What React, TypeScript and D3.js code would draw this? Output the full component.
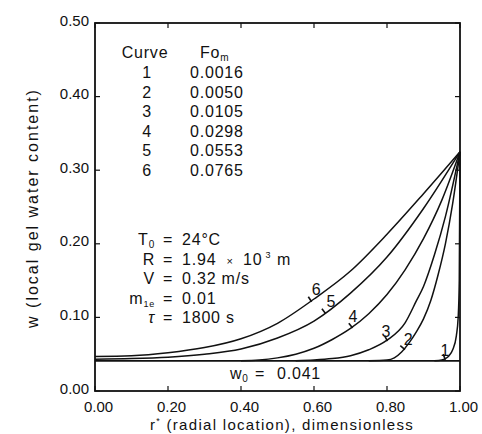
import React from 'react';
import * as d3 from 'd3';

// values
const curveIds = ['1', '2', '3', '4', '5', '6'];
const fourierNumbers = ['0.0016', '0.0050', '0.0105', '0.0298', '0.0553', '0.0765'];

const curve1 = [[0.93, 0.041], [0.95, 0.042], [0.96, 0.044], [0.97, 0.048], [0.98, 0.056], [0.99, 0.075], [0.995, 0.1], [0.998, 0.15], [1.0, 0.325]];
const curve2 = [[0.75, 0.041], [0.8, 0.042], [0.82, 0.045], [0.84, 0.053], [0.86, 0.065], [0.88, 0.08], [0.9, 0.098], [0.92, 0.123], [0.94, 0.158], [0.96, 0.2], [0.98, 0.255], [1.0, 0.325]];
const curve3 = [[0.55, 0.041], [0.6, 0.042], [0.65, 0.044], [0.7, 0.048], [0.75, 0.056], [0.8, 0.069], [0.85, 0.093], [0.88, 0.122], [0.9, 0.142], [0.93, 0.185], [0.96, 0.237], [1.0, 0.325]];
const curve4 = [[0.4, 0.041], [0.45, 0.042], [0.5, 0.045], [0.55, 0.05], [0.6, 0.058], [0.65, 0.07], [0.7, 0.085], [0.75, 0.105], [0.8, 0.131], [0.85, 0.165], [0.9, 0.207], [0.95, 0.259], [1.0, 0.325]];
const curve5 = [[0, 0.043], [0.1, 0.044], [0.2, 0.046], [0.3, 0.05], [0.4, 0.057], [0.5, 0.072], [0.6, 0.095], [0.7, 0.133], [0.8, 0.182], [0.9, 0.248], [1.0, 0.325]];
const curve6 = [[0, 0.047], [0.1, 0.048], [0.2, 0.052], [0.3, 0.059], [0.4, 0.071], [0.5, 0.092], [0.6, 0.125], [0.7, 0.163], [0.8, 0.213], [0.9, 0.268], [1.0, 0.325]];
const curves = [curve1, curve2, curve3, curve4, curve5, curve6];

// where each curve number sits (r*)
const labelR = [0.959, 0.847, 0.8, 0.704, 0.63, 0.592];

const initialContent = 0.041;
const xTicks = [0, 0.2, 0.4, 0.6, 0.8, 1.0];
const yTicks = [0, 0.1, 0.2, 0.3, 0.4, 0.5];

const W = 482;
const H = 434;
const FONT = '"Liberation Sans", Arial, Helvetica, sans-serif';

// label text offsets from the little tick on each curve
const labelOffsets = [[0, -8], [4, -9], [-1, -9], [1, -11], [6, -11], [5, -11]];

function interp(data: number[][], r: number) {
  for (let i = 1; i < data.length; i++) {
    if (data[i][0] >= r) {
      const [r0, w0] = data[i - 1];
      const [r1, w1] = data[i];
      const t = (r - r0) / (r1 - r0);
      return { w: w0 + t * (w1 - w0), slope: (w1 - w0) / (r1 - r0) };
    }
  }
  return { w: data[data.length - 1][1], slope: 0 };
}

export default function App() {
  const x = d3.scaleLinear().domain([0, 1]).range([95, 460]);
  const y = d3.scaleLinear().domain([0, 0.5]).range([391, 23]);

  const line = d3.line<number[]>()
    .x((d) => x(d[0]))
    .y((d) => y(d[1]))
    .curve(d3.curveMonotoneX);

  const tickLen = 5;
  const [x0, x1] = x.range();
  const [y0, y1] = y.range();
  const w0y = y(initialContent);

  return (
    <svg width={W} height={H} style={{ position: 'absolute', left: 0, top: 0, background: '#fff' }}
      fontFamily={FONT} fill="#111">
      {/* frame */}
      <rect x={x0} y={y1} width={x1 - x0} height={y0 - y1} fill="none" stroke="#111" strokeWidth={1.8} />

      {/* inward ticks on all sides */}
      {xTicks.map((t) => (
        <g key={'xt' + t} stroke="#111" strokeWidth={1.2}>
          <line x1={x(t)} x2={x(t)} y1={y0} y2={y0 - tickLen} />
          <line x1={x(t)} x2={x(t)} y1={y1} y2={y1 + tickLen} />
        </g>
      ))}
      {yTicks.map((t) => (
        <g key={'yt' + t} stroke="#111" strokeWidth={1.2}>
          <line x1={x0} x2={x0 + tickLen} y1={y(t)} y2={y(t)} />
          <line x1={x1} x2={x1 - tickLen} y1={y(t)} y2={y(t)} />
        </g>
      ))}

      {/* tick labels */}
      {xTicks.map((t) => (
        <text key={'xl' + t} x={x(t) + 3.5} y={412} textAnchor="middle" fontSize={15}>
          {t.toFixed(2)}
        </text>
      ))}
      {yTicks.map((t) => (
        <text key={'yl' + t} x={89} y={y(t) + 2.5} textAnchor="end" fontSize={15}>
          {t.toFixed(2)}
        </text>
      ))}

      {/* axis titles */}
      <text x={282} y={430} textAnchor="middle" fontSize={15} letterSpacing={1.3}>
        r<tspan fontSize={9} dy={-6}>*</tspan><tspan dy={6}> (radial location), dimensionless</tspan>
      </text>
      <text transform="translate(38,208) rotate(-90)" textAnchor="middle" fontSize={16} letterSpacing={2}>
        w (local gel water content)
      </text>

      {/* initial water content line */}
      <line x1={x0} x2={x1} y1={w0y} y2={w0y} stroke="#111" strokeWidth={1.8} />
      <g fontSize={16} letterSpacing={0.8}>
        <text x={230} y={w0y + 18}>w<tspan fontSize={10} dy={3}>0</tspan></text>
        <text x={260} y={w0y + 18} textAnchor="middle">=</text>
        <text x={277} y={w0y + 18}>0.041</text>
      </g>

      {/* profiles */}
      {curves.map((c, i) => (
        <path key={'c' + i} d={line(c) || ''} fill="none" stroke="#111" strokeWidth={1.5} />
      ))}

      {/* curve number markers */}
      {curves.map((c, i) => {
        const r = labelR[i];
        const { w, slope } = interp(c, r);
        const px = x(r);
        const py = y(w);
        const s = (y(slope) - y(0)) / (x(1) - x(0));
        const len = Math.hypot(s, 1);
        const nx = s / len;
        const ny = -1 / len;
        const [ox, oy] = labelOffsets[i];
        return (
          <g key={'m' + i}>
            <line x1={px - nx} y1={py - ny} x2={px + nx * 5} y2={py + ny * 5} stroke="#111" strokeWidth={1.6} />
            <text x={px + ox} y={py + oy + 5.5} textAnchor="middle" fontSize={16}>{curveIds[i]}</text>
          </g>
        );
      })}

      {/* legend table */}
      <g fontSize={16} letterSpacing={0.8}>
        <text x={145} y={58} textAnchor="middle">Curve</text>
        <text x={200} y={58}>Fo<tspan fontSize={10} dy={3}>m</tspan></text>
        {curveIds.map((id, i) => (
          <g key={'row' + id}>
            <text x={147} y={78 + i * 19.5} textAnchor="middle">{id}</text>
            <text x={190} y={78 + i * 19.5}>{fourierNumbers[i]}</text>
          </g>
        ))}
      </g>

      {/* run conditions */}
      <g fontSize={16} letterSpacing={0.8}>
        <text x={155} y={245} textAnchor="end">T<tspan fontSize={10} dy={3}>0</tspan></text>
        <text x={155} y={264.5} textAnchor="end">R</text>
        <text x={155} y={284} textAnchor="end">V</text>
        <text x={155} y={303.5} textAnchor="end">m<tspan fontSize={9} dy={3}>1e</tspan></text>
        <text x={155} y={323} textAnchor="end" fontStyle="italic">τ</text>
        {[245, 264.5, 284, 303.5, 323].map((yy) => (
          <text key={'eq' + yy} x={168} y={yy} textAnchor="middle">=</text>
        ))}
        <text x={182} y={245}>24°C</text>
        <text x={182} y={264.5}>1.94</text>
        <text x={230} y={264.5} textAnchor="middle" fontSize={11}>×</text>
        <text x={243} y={264.5}>10<tspan fontSize={9} dy={-7} dx={3}>3</tspan></text>
        <text x={277} y={264.5}>m</text>
        <text x={182} y={284}>0.32 m/s</text>
        <text x={182} y={303.5}>0.01</text>
        <text x={182} y={323}>1800 s</text>
      </g>
    </svg>
  );
}
